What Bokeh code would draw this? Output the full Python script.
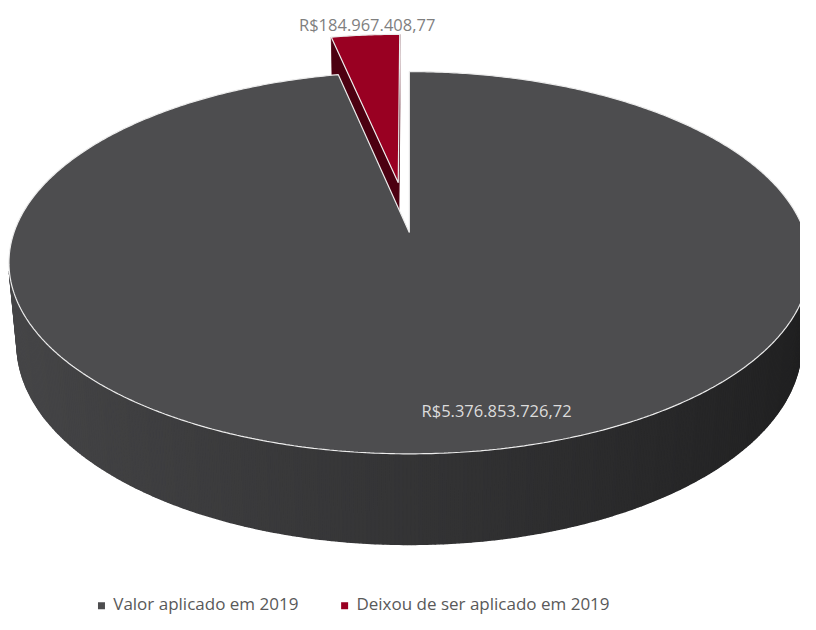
import numpy as np
from bokeh.plotting import figure
from bokeh.models import Range1d, ColumnDataSource
from bokeh.embed import file_html
from bokeh.resources import INLINE
from bokeh.core.properties import value

# ---------------- data ----------------
categories = ["Valor aplicado em 2019", "Deixou de ser aplicado em 2019"]
amounts = [5376853726.72, 184967408.77]
amount_labels = ["R$5.376.853.726,72", "R$184.967.408,77"]
top_colors = ["#4d4d4f", "#990022"]
explode = [0.0, 0.28]

# ---------------- layout / projection ----------------
W, H = 800, 614
p = figure(width=W, height=H, x_range=Range1d(0, 816), y_range=Range1d(630, 0),
           output_backend="svg", toolbar_location=None, min_border=0)
p.axis.visible = False
p.grid.visible = False
p.outline_line_color = None
p.background_fill_color = "white"
p.border_fill_color = "white"

CX, CY = 417.0, 238.0
PHI = np.radians(28.3)
C, S = np.cos(PHI), np.sin(PHI)
DIST = 5.56
FOC = 2242.0
THICK = 0.2386
CAM = np.array([0.0, DIST * S, DIST * C])


def proj(x, y, z):
    x = np.asarray(x, float); y = np.asarray(y, float); z = np.asarray(z, float)
    yc = y * C - z * S
    dep = DIST - z * C - y * S
    return CX + FOC * x / dep, CY - FOC * yc / dep


def hexrgb(h):
    h = h.lstrip("#")
    return np.array([int(h[i:i + 2], 16) for i in (0, 2, 4)], float)


def shade(h, k):
    r = np.clip(hexrgb(h) * k, 0, 255).astype(int)
    return "#%02x%02x%02x" % tuple(r)


total = float(sum(amounts))
cum = 0.0
slices = []
for i, a in enumerate(amounts):
    span = 360.0 * a / total
    a1 = 90.0 - cum
    a0 = a1 - span
    cum += span
    m = np.radians((a0 + a1) / 2)
    off = np.array([explode[i] * np.cos(m), 0.0, -explode[i] * np.sin(m)])
    slices.append(dict(i=i, a0=a0, a1=a1, off=off, mid=m))

# draw farther slices first
order = sorted(slices, key=lambda d: (-np.sin(d["mid"])))

for sl in order:
    i = sl["i"]
    ox, oy, oz = sl["off"]
    col = top_colors[i]
    th = np.radians(np.linspace(sl["a0"], sl["a1"], max(8, int((sl["a1"] - sl["a0"]) * 2))))
    rx, rz = np.cos(th), -np.sin(th)

    # outer side strips (front-facing part only), drawn as a smooth gradient
    xs, ys, cs = [], [], []
    for j in range(len(th) - 1):
        mx = (rx[j] + rx[j + 1]) / 2 + ox
        mz = (rz[j] + rz[j + 1]) / 2 + oz
        n = np.array([(rx[j] + rx[j + 1]) / 2, 0, (rz[j] + rz[j + 1]) / 2])
        if np.dot(n, CAM - np.array([mx, -THICK / 2, mz])) <= 0:
            continue
        px = [rx[j], rx[j + 1], rx[j + 1], rx[j]]
        pz = [rz[j], rz[j + 1], rz[j + 1], rz[j]]
        py = [0, 0, -THICK, -THICK]
        sx, sy = proj(np.array(px) + ox, np.array(py) + oy, np.array(pz) + oz)
        xs.append(list(sx)); ys.append(list(sy))
        cx = (rx[j] + rx[j + 1]) / 2
        k = 0.68 - 0.24 * cx if cx < 0 else 0.68 - 0.27 * cx
        cs.append(shade(col, k))
    if xs:
        src = ColumnDataSource(dict(xs=xs, ys=ys, c=cs))
        p.patches("xs", "ys", source=src, fill_color="c", line_color="c", line_width=1.6)

    # radial faces
    for ang, sign in ((sl["a0"], 1), (sl["a1"], -1)):
        a = np.radians(ang)
        n = np.array([sign * np.sin(a), 0, sign * np.cos(a)])
        q = np.array([0.5 * np.cos(a) + ox, -THICK / 2, -0.5 * np.sin(a) + oz])
        if np.dot(n, CAM - q) <= 1e-6:
            continue
        px = np.array([0, np.cos(a), np.cos(a), 0]) + ox
        pz = np.array([0, -np.sin(a), -np.sin(a), 0]) + oz
        py = np.array([0, 0, -THICK, -THICK]) + oy
        sx, sy = proj(px, py, pz)
        p.patch(list(sx), list(sy), fill_color=shade(col, 0.5), line_color=shade(col, 0.5),
                line_width=0.8)

    # top face
    tx = np.concatenate([[0], rx, [0]]) + ox
    tz = np.concatenate([[0], rz, [0]]) + oz
    sx, sy = proj(tx, np.zeros_like(tx) + oy, tz)
    p.patch(list(sx), list(sy), fill_color=col, line_color="#ececec", line_width=1.2)

# data labels
p.text(x=[506], y=[421], text=[amount_labels[0]], text_align="center", text_baseline="middle",
       text_font=value("Open Sans"), text_font_size="16.5px", text_color="#dcdcdc")
p.text(x=[374], y=[25], text=[amount_labels[1]], text_align="center", text_baseline="middle",
       text_font=value("Open Sans"), text_font_size="16.5px", text_color="#7f7f7f")

# legend
leg_x = [103, 351]
p.scatter(x=leg_x, y=[621, 621], marker="square", size=7, fill_color=top_colors,
          line_color=None)
p.text(x=[115, 363], y=[619, 619], text=categories, text_align="left", text_baseline="middle",
       text_font=value("Open Sans"), text_font_size="17px", text_color="#595959")

open("out.html", "w").write(file_html(p, INLINE))
